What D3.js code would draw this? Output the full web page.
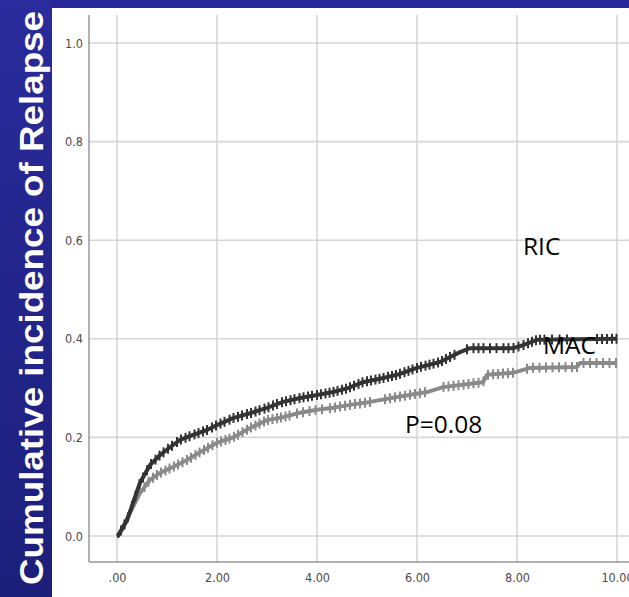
<!DOCTYPE html>
<html>
<head>
<meta charset="utf-8">
<script src="https://cdn.jsdelivr.net/npm/d3@7/dist/d3.min.js"></script>
<style>
  html, body { margin: 0; padding: 0; background: #fff; }
  svg { display: block; }
</style>
</head>
<body>
<svg id="chart" width="629" height="597"></svg>
<script>
// Cumulative incidence of relapse by conditioning regimen (years)
const xTicks = [0, 2, 4, 6, 8, 10];
const xTickLabels = [".00", "2.00", "4.00", "6.00", "8.00", "10.00"];
const yTicks = [0, 0.2, 0.4, 0.6, 0.8, 1.0];
const yTickLabels = ["0.0", "0.2", "0.4", "0.6", "0.8", "1.0"];

// Dark curve
const darkTime  = [0, 0.02, 0.1, 0.2, 0.32, 0.46, 0.66, 0.86, 1.06, 1.26, 1.52, 1.8, 2.0, 2.32, 2.66, 3.0, 3.32, 3.66, 4.0, 4.32, 4.62, 4.92, 5.3, 5.6, 6.0, 6.46, 6.86, 7.06, 7.92, 8.12, 8.4, 10.0];
const darkValue = [0, 0, 0.015, 0.032, 0.067, 0.108, 0.144, 0.164, 0.18, 0.195, 0.205, 0.215, 0.225, 0.239, 0.249, 0.26, 0.272, 0.28, 0.286, 0.292, 0.30, 0.312, 0.32, 0.327, 0.341, 0.353, 0.373, 0.381, 0.381, 0.387, 0.398, 0.40];
const darkCensor = [0.08, 0.15, 0.22, 0.3, 0.37, 0.45, 0.52, 0.6, 0.68, 0.77, 0.85, 0.93, 1.02, 1.1, 1.2, 1.28, 1.37, 1.45, 1.55, 1.63, 1.72, 1.8, 1.9, 1.98, 2.07, 2.15, 2.25, 2.33, 2.42, 2.5, 2.6, 2.68, 2.77, 2.85, 2.95, 3.03, 3.12, 3.2, 3.3, 3.38, 3.47, 3.55, 3.65, 3.73, 3.82, 3.9, 4.0, 4.08, 4.17, 4.25, 4.33, 4.41, 4.5, 4.58, 4.66, 4.74, 4.83, 4.91, 5.0, 5.08, 5.17, 5.25, 5.33, 5.42, 5.5, 5.58, 5.66, 5.75, 5.83, 5.91, 6.0, 6.08, 6.17, 6.25, 6.33, 6.42, 6.5, 6.58, 6.66, 6.75, 7.0, 7.13, 7.23, 7.33, 7.46, 7.59, 7.73, 7.83, 7.93, 8.03, 8.13, 8.22, 8.3, 8.38, 8.46, 8.55, 8.7, 8.85, 9.0, 9.6, 9.7, 9.8, 9.9, 9.99];

// Gray curve
const grayTime  = [0, 0.1, 0.26, 0.46, 0.66, 0.86, 1.12, 1.4, 1.66, 2.0, 2.32, 2.66, 3.0, 3.32, 3.66, 4.0, 4.32, 4.66, 5.06, 5.6, 6.2, 6.52, 7.32, 7.4, 7.92, 8.26, 9.2, 9.26, 10.0];
const grayValue = [0, 0.012, 0.047, 0.087, 0.114, 0.128, 0.14, 0.154, 0.17, 0.189, 0.2, 0.219, 0.235, 0.241, 0.25, 0.256, 0.26, 0.266, 0.272, 0.282, 0.292, 0.302, 0.312, 0.327, 0.331, 0.341, 0.343, 0.351, 0.351];
const grayCensor = [0.55, 0.63, 0.72, 0.8, 0.88, 0.97, 1.05, 1.14, 1.22, 1.31, 1.4, 1.48, 1.57, 1.65, 1.74, 1.82, 1.91, 2.0, 2.08, 2.17, 2.25, 2.34, 2.42, 2.51, 2.6, 2.68, 2.77, 2.85, 2.94, 3.02, 3.11, 3.2, 3.28, 3.37, 3.45, 3.6, 3.72, 3.85, 3.97, 4.1, 4.26, 4.36, 4.46, 4.56, 4.66, 4.76, 4.86, 4.96, 5.06, 5.36, 5.46, 5.56, 5.66, 5.76, 5.86, 5.96, 6.06, 6.16, 6.53, 6.63, 6.73, 6.83, 6.93, 7.03, 7.13, 7.23, 7.33, 7.42, 7.52, 7.62, 7.72, 7.82, 7.92, 8.2, 8.32, 8.45, 8.58, 8.71, 8.84, 8.97, 9.1, 9.2, 9.33, 9.46, 9.59, 9.72, 9.85, 9.98];

const annotations = [
  { text: "RIC",    t: 8.12, v: 0.57 },
  { text: "MAC",    t: 8.52, v: 0.37 },
  { text: "P=0.08", t: 5.76, v: 0.208 }
];

const svg = d3.select("#chart");

// Slide background: blue band on top, blue strip at left
const defs = svg.append("defs");
const grad = defs.append("linearGradient")
  .attr("id", "stripGrad").attr("x1", 0).attr("y1", 0).attr("x2", 0).attr("y2", 1);
grad.append("stop").attr("offset", "0%").attr("stop-color", "#2a2b9c");
grad.append("stop").attr("offset", "100%").attr("stop-color", "#1b1f7a");

svg.append("rect").attr("x", 0).attr("y", 0).attr("width", 629).attr("height", 597).attr("fill", "#fff");
svg.append("rect").attr("x", 0).attr("y", 0).attr("width", 629).attr("height", 8).attr("fill", "#27289b");
svg.append("rect").attr("x", 0).attr("y", 0).attr("width", 52).attr("height", 597).attr("fill", "url(#stripGrad)");

svg.append("text")
  .attr("transform", "translate(43,585) rotate(-90)")
  .attr("font-family", "'Liberation Sans', Arial, sans-serif")
  .attr("font-weight", "bold")
  .attr("font-size", 34)
  .attr("fill", "#ffffff")
  .attr("textLength", 574)
  .attr("lengthAdjust", "spacingAndGlyphs")
  .text("Cumulative incidence of Relapse");

// Scales
const x = d3.scaleLinear().domain([0, 10]).range([117, 617]);
const y = d3.scaleLinear().domain([0, 1]).range([536, 43]);
const axisX = 89, axisY = 562, gridTop = 15;

// Grid
const grid = svg.append("g");
grid.selectAll("line.v").data(xTicks).join("line")
  .attr("x1", d => x(d)).attr("x2", d => x(d))
  .attr("y1", gridTop).attr("y2", axisY)
  .attr("stroke", "#d6d6d6").attr("stroke-width", 1.6);
grid.selectAll("line.h").data(yTicks).join("line")
  .attr("x1", axisX).attr("x2", 629)
  .attr("y1", d => y(d)).attr("y2", d => y(d))
  .attr("stroke", "#d6d6d6").attr("stroke-width", 1.6);

// Axes
const tickFont = "'Liberation Sans Narrow', 'DejaVu Sans Condensed', sans-serif";
const gx = svg.append("g").attr("transform", `translate(0,${axisY})`)
  .call(d3.axisBottom(x).tickValues(xTicks).tickSize(0).tickPadding(11)
    .tickFormat((d, i) => xTickLabels[i]));
const gy = svg.append("g").attr("transform", `translate(${axisX},0)`)
  .call(d3.axisLeft(y).tickValues(yTicks).tickSize(0).tickPadding(6)
    .tickFormat((d, i) => yTickLabels[i]));
[gx, gy].forEach(g => {
  g.select(".domain").remove();
  g.selectAll("text").attr("font-family", tickFont).attr("font-size", 12.5).attr("fill", "#4a4a4a");
});
svg.append("line").attr("x1", axisX).attr("x2", axisX).attr("y1", gridTop).attr("y2", axisY)
  .attr("stroke", "#666").attr("stroke-width", 1);
svg.append("line").attr("x1", axisX).attr("x2", 629).attr("y1", axisY).attr("y2", axisY)
  .attr("stroke", "#666").attr("stroke-width", 1);

// Curves with censoring ticks
function drawCurve(times, values, censor, color) {
  const pts = times.map((t, i) => [t, values[i]]);
  const line = d3.line().x(d => x(d[0])).y(d => y(d[1])).curve(d3.curveLinear);
  svg.append("path").datum(pts)
    .attr("d", line).attr("fill", "none")
    .attr("stroke", color).attr("stroke-width", 4)
    .attr("stroke-linejoin", "round");
  const interp = d3.scaleLinear().domain(times).range(values);
  svg.append("g").selectAll("line").data(censor).join("line")
    .attr("x1", d => x(d)).attr("x2", d => x(d))
    .attr("y1", d => y(interp(d)) - 5).attr("y2", d => y(interp(d)) + 5)
    .attr("stroke", color).attr("stroke-width", 2);
}
drawCurve(grayTime, grayValue, grayCensor, "#8a8a8a");
drawCurve(darkTime, darkValue, darkCensor, "#333333");

// Annotations
svg.append("g").selectAll("text").data(annotations).join("text")
  .attr("x", d => x(d.t)).attr("y", d => y(d.v))
  .attr("font-family", "'Open Sans', 'Noto Sans', sans-serif")
  .attr("font-size", 24.5)
  .attr("fill", "#000")
  .text(d => d.text);
</script>
</body>
</html>
